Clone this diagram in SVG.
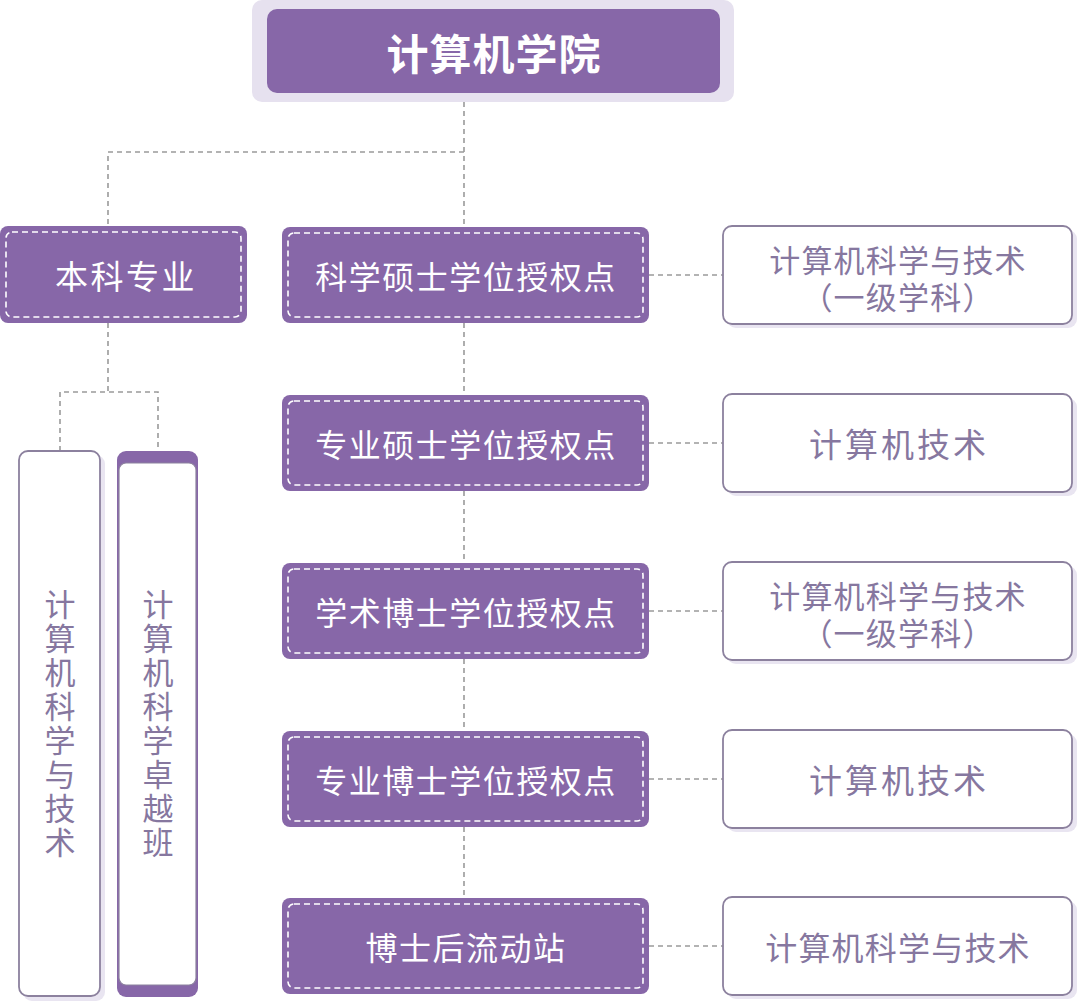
<svg xmlns="http://www.w3.org/2000/svg" width="1080" height="1002" viewBox="0 0 1080 1002">
<style>
.purple{fill:#8767a8}
.inner{fill:none;stroke:#ffffff;stroke-width:1.6;stroke-dasharray:6 4}
.wtxt{font-family:"Noto Sans CJK SC","Noto Sans",sans-serif;fill:#ffffff;text-anchor:middle;dominant-baseline:central}
.ptxt{font-family:"Noto Sans CJK SC","Noto Sans",sans-serif;fill:#86779f;text-anchor:middle;dominant-baseline:central}
.vtxt{font-family:"Noto Sans CJK SC","Noto Sans",sans-serif;fill:#86779f;text-anchor:middle;writing-mode:vertical-rl;font-size:31px;letter-spacing:3px}
.wbox{fill:#ffffff;stroke:#8c819e;stroke-width:1.8}
.shadow{fill:#e9e5f1}
.conn{fill:none;stroke:#9a9a9a;stroke-width:1.6;stroke-dasharray:5 4}
.mid{font-size:32px;letter-spacing:1.5px}
</style>
<rect width="1080" height="1002" fill="#ffffff"/>
<g id="connectors">
<path class="conn" d="M464 93 V227"/>
<path class="conn" d="M464 152 H108 V226"/>
<path class="conn" d="M464 323 V395 M464 491 V563 M464 659 V731 M464 827 V898"/>
<path class="conn" d="M649 275 H723 M649 443 H723 M649 611 H723 M649 779 H723 M649 946 H723"/>
<path class="conn" d="M108 323 V392 M60 451 V392 H158 V451"/>
</g>
<g id="root">
<rect x="252" y="0" width="482" height="102" rx="10" fill="#e6e1ef"/>
<rect x="267" y="9" width="453" height="84" rx="10" class="purple"/>
<text x="494" y="51" class="wtxt" font-size="42" font-weight="bold" letter-spacing="1">计算机学院</text>
</g>
<g id="undergrad">
<rect x="0" y="226" width="247" height="97" rx="8" class="purple"/>
<rect x="6" y="232" width="235" height="85" rx="6" class="inner"/>
<text x="126" y="275" class="wtxt" font-size="33" letter-spacing="2.5">本科专业</text>
</g>
<g id="m1">
<rect x="282" y="227" width="367" height="96" rx="8" class="purple"/>
<rect x="288" y="233" width="355" height="84" rx="6" class="inner"/>
<text x="466" y="275" class="wtxt mid">科学硕士学位授权点</text>
</g>
<g id="m2">
<rect x="282" y="395" width="367" height="96" rx="8" class="purple"/>
<rect x="288" y="401" width="355" height="84" rx="6" class="inner"/>
<text x="466" y="443" class="wtxt mid">专业硕士学位授权点</text>
</g>
<g id="m3">
<rect x="282" y="563" width="367" height="96" rx="8" class="purple"/>
<rect x="288" y="569" width="355" height="84" rx="6" class="inner"/>
<text x="466" y="611" class="wtxt mid">学术博士学位授权点</text>
</g>
<g id="m4">
<rect x="282" y="731" width="367" height="96" rx="8" class="purple"/>
<rect x="288" y="737" width="355" height="84" rx="6" class="inner"/>
<text x="466" y="779" class="wtxt mid">专业博士学位授权点</text>
</g>
<g id="m5">
<rect x="282" y="898" width="367" height="96" rx="8" class="purple"/>
<rect x="288" y="904" width="355" height="84" rx="6" class="inner"/>
<text x="466" y="946" class="wtxt mid">博士后流动站</text>
</g>
<g id="r1">
<rect x="727" y="230" width="350" height="98" rx="9" class="shadow"/>
<rect x="723" y="226" width="349" height="98" rx="9" class="wbox"/>
<text class="ptxt" font-size="31" letter-spacing="1.2"><tspan x="898" y="258">计算机科学与技术</tspan><tspan x="898" y="295">（一级学科）</tspan></text>
</g>
<g id="r2">
<rect x="727" y="398" width="350" height="98" rx="9" class="shadow"/>
<rect x="723" y="394" width="349" height="98" rx="9" class="wbox"/>
<text x="899" y="443" class="ptxt" font-size="33" letter-spacing="3">计算机技术</text>
</g>
<g id="r3">
<rect x="727" y="566" width="350" height="98" rx="9" class="shadow"/>
<rect x="723" y="562" width="349" height="98" rx="9" class="wbox"/>
<text class="ptxt" font-size="31" letter-spacing="1.2"><tspan x="898" y="594">计算机科学与技术</tspan><tspan x="898" y="631">（一级学科）</tspan></text>
</g>
<g id="r4">
<rect x="727" y="734" width="350" height="98" rx="9" class="shadow"/>
<rect x="723" y="730" width="349" height="98" rx="9" class="wbox"/>
<text x="899" y="779" class="ptxt" font-size="33" letter-spacing="3">计算机技术</text>
</g>
<g id="r5">
<rect x="727" y="901" width="350" height="98" rx="9" class="shadow"/>
<rect x="723" y="897" width="349" height="98" rx="9" class="wbox"/>
<text x="898" y="946" class="ptxt" font-size="32" letter-spacing="1.2">计算机科学与技术</text>
</g>
<g id="v1">
<rect x="23" y="455" width="82" height="546" rx="9" class="shadow"/>
<rect x="19" y="451" width="81" height="545" rx="9" class="wbox"/>
<text x="60" y="725" class="vtxt">计算机科学与技术</text>
</g>
<g id="v2">
<rect x="117" y="451" width="81" height="546" rx="9" class="purple"/>
<rect x="119" y="463" width="77" height="522" rx="7" fill="#ffffff" stroke="#8c819e" stroke-width="1.2"/>
<text x="158" y="725" class="vtxt">计算机科学卓越班</text>
</g>
</svg>
